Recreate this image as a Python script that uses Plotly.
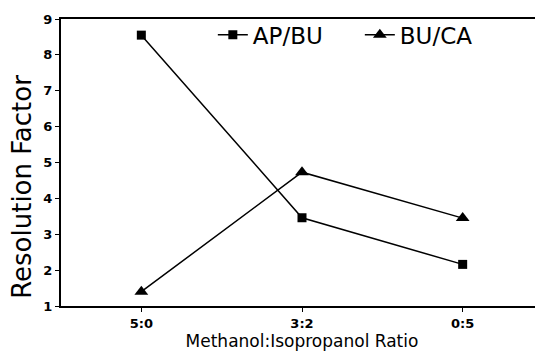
import plotly.graph_objects as go

categories = ["5:0", "3:2", "0:5"]
ap_bu = [8.55, 3.46, 2.16]
bu_ca = [1.4, 4.73, 3.45]

x_idx = list(range(len(categories)))

fig = go.Figure()
fig.add_trace(go.Scatter(x=x_idx, y=ap_bu, name="AP/BU", mode="lines+markers",
                         line=dict(color="black", width=1.5),
                         marker=dict(symbol="square", size=9, color="black")))
fig.add_trace(go.Scatter(x=x_idx, y=bu_ca, name="BU/CA", mode="lines+markers",
                         line=dict(color="black", width=1.5),
                         marker=dict(symbol="triangle-up", size=12, color="black")))

fig.update_layout(
    width=535, height=345,
    margin=dict(l=53, r=0, t=11, b=47),
    paper_bgcolor="white", plot_bgcolor="white",
    font=dict(family="DejaVu Sans", color="black"),
    legend=dict(orientation="h", x=0.315, y=1.02, xanchor="left", yanchor="top",
                font=dict(size=23, family="DejaVu Sans"), bgcolor="rgba(0,0,0,0)",
                entrywidth=102, entrywidthmode="pixels"),
    showlegend=True,
    annotations=[dict(text="Resolution Factor", textangle=-90, xref="paper", yref="paper",
                      x=-0.081, y=0.415, xanchor="center", yanchor="middle", showarrow=False,
                      font=dict(size=26, family="DejaVu Sans", color="black"))],
)
fig.update_xaxes(range=[-0.5, 2.5], tickvals=x_idx, ticktext=categories,
                 showline=True, linecolor="black", linewidth=2, mirror=True,
                 ticks="outside", ticklen=4, tickcolor="black", showgrid=False, zeroline=False,
                 tickfont=dict(size=13, family="DejaVu Sans", weight="bold"),
                 title=dict(text="Methanol:Isopropanol Ratio", font=dict(size=17, family="DejaVu Sans"), standoff=5))
fig.update_yaxes(range=[1, 9], dtick=1, tick0=1,
                 showline=True, linecolor="black", linewidth=2,
                 ticks="outside", ticklen=4, tickcolor="black", showgrid=False, zeroline=False,
                 tickfont=dict(size=13, family="DejaVu Sans", weight="bold"))

fig.write_html("out.html")
